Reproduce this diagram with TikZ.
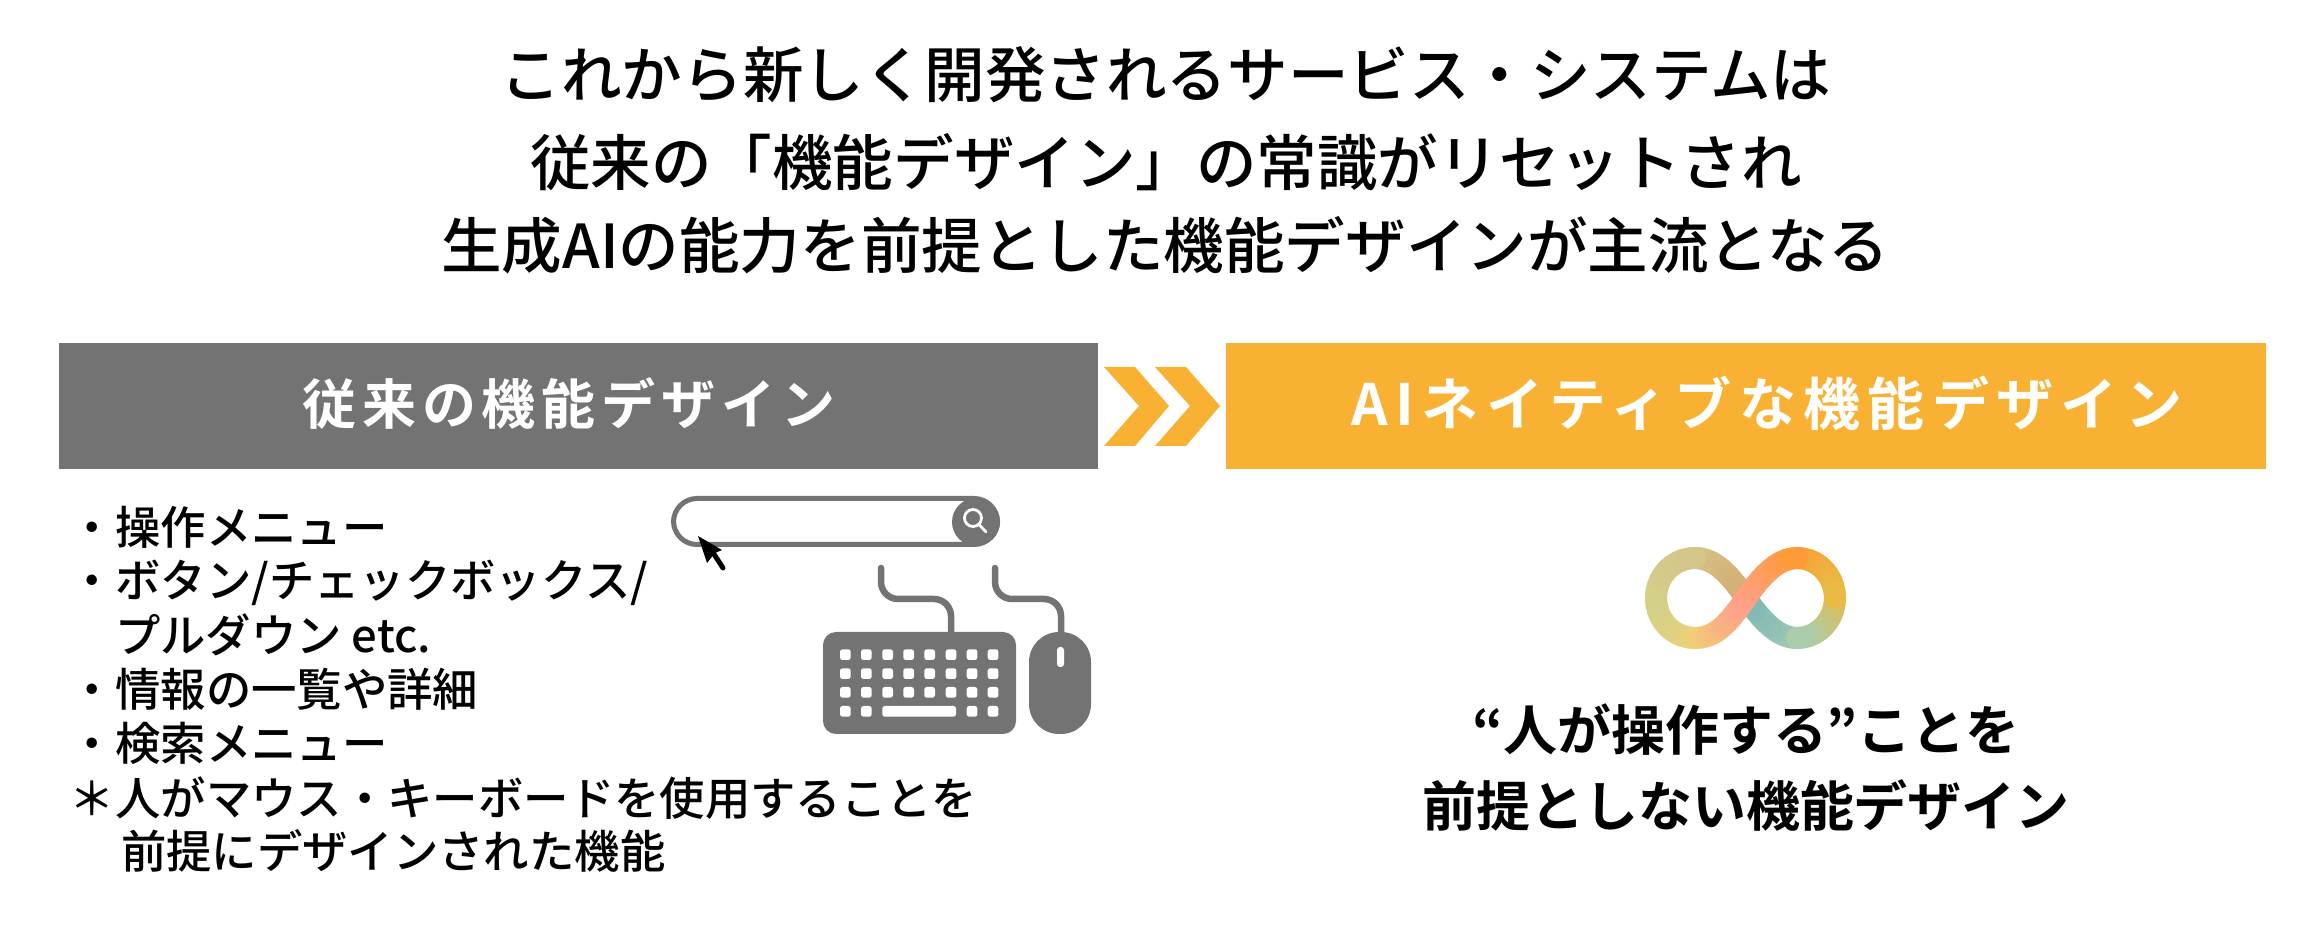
\documentclass[tikz,border=0pt]{standalone}
\usepackage{fontspec}
\setmainfont{Noto Sans CJK JP Medium}
\newfontfamily\titlefont{Noto Sans CJK JP Medium}
\newfontfamily\headfontA{Noto Sans CJK JP Bold}[LetterSpace=11]
\newfontfamily\headfontB{Noto Sans CJK JP Bold}[LetterSpace=13]
\newfontfamily\boldfont{Noto Sans CJK JP Bold}
\definecolor{barGray}{HTML}{737373}
\definecolor{barOrange}{HTML}{F8B133}
\definecolor{infA}{HTML}{FFA08A}
\definecolor{infB}{HTML}{FF9A35}
\definecolor{infC}{HTML}{E8BC45}
\definecolor{infD}{HTML}{A8CDB0}
\definecolor{infE}{HTML}{7FB8B8}
\definecolor{infF}{HTML}{D4AE75}
\definecolor{infG}{HTML}{D4C58A}
\definecolor{infH}{HTML}{D4D08A}
\definecolor{infI}{HTML}{EED275}
\newcommand{\infpiece}[6]{
  \foreach \i in {0,...,9}{
    \pgfmathsetmacro{\mixval}{100-\i*10-5}
    \path (#1) .. controls (#2) and (#3) .. (#4)
      coordinate[pos=\i/10] (infs) coordinate[pos=(\i+1)/10] (infe);
    \draw[line width=0.22cm,line cap=round,color=#5!\mixval!#6] (infs) -- (infe);
  }
}
\begin{document}
\begin{tikzpicture}[x=0.01cm,y=-0.01cm]\tikzstyle{every node} = [inner sep=0pt,outer sep=0pt]
    \tikzstyle{titleline} = [anchor=base,font=\titlefont\fontsize{17.22pt}{20pt}\selectfont]
    \tikzstyle{listline} = [anchor=base west,font=\fontsize{12.9pt}{15pt}\selectfont]
    \tikzstyle{boldline} = [anchor=base,font=\boldfont\fontsize{15.35pt}{18pt}\selectfont]
    \tikzstyle{headbar} = [minimum height=1.26cm]
    \tikzstyle{cable} = [draw=barGray,line width=0.065cm,line cap=round,rounded corners=0.17cm]
    \useasboundingbox (0,0) rectangle (2318,931);
    \fill[white] (0,0) rectangle (2318,931);

    \node[titleline] (titleA) at (1166,98) {これから新しく開発されるサービス・システムは};
    \node[titleline] (titleB) at (1166,186) {従来の「機能デザイン」の常識がリセットされ};
    \node[titleline] (titleC) at (1165,269) {生成AIの能力を前提とした機能デザインが主流となる};

    \node[headbar,fill=barGray,minimum width=10.39cm] (oldbar) at (578.5,406) {};
    \node[headbar,fill=barOrange,minimum width=10.40cm] (newbar) at (1746,406) {};
    \node[text=white,anchor=base,font=\headfontA\fontsize{15.36pt}{18pt}\selectfont] (oldhead) at (569,425) {従来の機能デザイン};
    \node[text=white,anchor=base,font=\headfontB\fontsize{16.2pt}{19pt}\selectfont] (newhead) at (1767,426) {AIネイティブな機能デザイン};

    \fill[barOrange] (1104,367) -- (1135,367) -- (1169,406) -- (1135,446) -- (1104,446) -- (1139,406) -- cycle;
    \fill[barOrange] (1155,367) -- (1186,367) -- (1220,406) -- (1186,446) -- (1155,446) -- (1190,406) -- cycle;

    \node[listline] (itemA) at (70,545) {・操作メニュー};
    \node[listline] (itemB) at (70,598) {・ボタン/チェックボックス/};
    \node[listline] (itemC) at (115,653) {プルダウン etc.};
    \node[listline] (itemD) at (70,707) {・情報の一覧や詳細};
    \node[listline] (itemE) at (70,761) {・検索メニュー};
    \node[listline] (itemF) at (70,815) {＊人がマウス・キーボードを使用することを};
    \node[listline] (itemG) at (121,868) {前提にデザインされた機能};

    \draw[barGray,line width=0.05cm,rounded corners=0.235cm] (673.5,498.5) rectangle (997.5,544.5);
    \fill[barGray] (976,522) circle (24);
    \draw[white,line width=0.028cm] (973,518) circle (8.5);
    \draw[white,line width=0.028cm,line cap=round] (979,524.5) -- (986,532);
    \fill[black] (698,536) -- (722,550) -- (715,553) -- (707,563) -- cycle;
    \draw[black,line width=0.05cm,line cap=round] (712,551) -- (723,568);

    \draw[cable] (881,568) -- (881,599) -- (951,599) -- (951,640);
    \draw[cable] (995,568) -- (995,599) -- (1061,599) -- (1061,640);
    \fill[barGray,rounded corners=0.13cm] (823,632) rectangle (1016,734);
    \fill[barGray,rounded corners=0.30cm] (1029,632) rectangle (1091,734);
    \fill[white,rounded corners=0.03cm] (1057,647) rectangle (1064,667);
    \foreach \keyx in {840,861,882.3,903.3,924.3,945.7,966.7,987.7}
      \foreach \keyy in {649.3,668.3,687}
        \fill[white,rounded corners=0.025cm] (\keyx,\keyy) rectangle +(10.7,10.7);
    \foreach \keyx in {840,861,966.7,987.7}
      \fill[white,rounded corners=0.025cm] (\keyx,706) rectangle +(10.7,10.7);
    \fill[white,rounded corners=0.025cm] (882.3,706) rectangle (956,716.7);

    \infpiece{1695,558}{1715,558}{1730,575}{1746,598}{infG}{infF}
    \infpiece{1797,638}{1778,638}{1762,621}{1746,598}{infD}{infE}
    \infpiece{1656,598}{1656,576}{1673,558}{1695,558}{infH}{infG}
    \infpiece{1695,638}{1673,638}{1656,620}{1656,598}{infI}{infH}
    \infpiece{1835,598}{1835,620}{1818,638}{1797,638}{infC}{infD}
    \infpiece{1797,558}{1818,558}{1835,576}{1835,598}{infB}{infC}
    \infpiece{1695,638}{1717,638}{1730,621}{1746,598}{infI}{infA}
    \infpiece{1746,598}{1762,575}{1778,558}{1797,558}{infA}{infB}

    \node[boldline] (noteA) at (1746,751) {“人が操作する”ことを};
    \node[boldline] (noteB) at (1746,827) {前提としない機能デザイン};
  \end{tikzpicture}
\end{document}
